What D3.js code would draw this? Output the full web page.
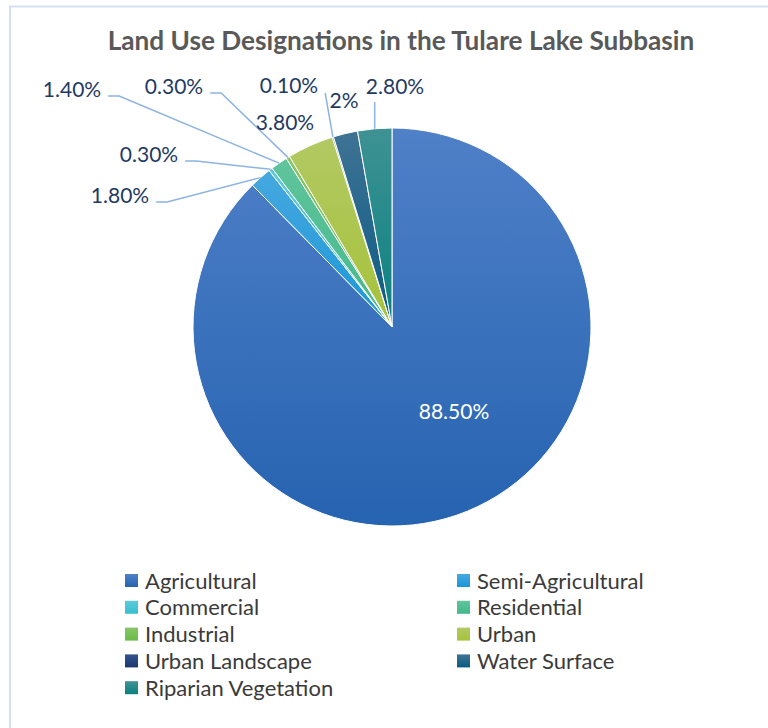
<!DOCTYPE html>
<html>
<head>
<meta charset="utf-8">
<script src="https://cdn.jsdelivr.net/npm/d3@7/dist/d3.min.js"></script>
<style>
  html, body { margin: 0; padding: 0; background: #ffffff; }
  svg { display: block; }
</style>
</head>
<body>
<svg id="chart" width="768" height="728"></svg>
<script>
// ---------- data ----------
const categories = ["Agricultural", "Semi-Agricultural", "Commercial", "Residential", "Industrial",
                    "Urban", "Urban Landscape", "Water Surface", "Riparian Vegetation"];
const values = [88.5, 1.8, 0.3, 1.4, 0.3, 3.8, 0.1, 2, 2.8];
const valueLabels = ["88.50%", "1.80%", "0.30%", "1.40%", "0.30%", "3.80%", "0.10%", "2%", "2.80%"];
const title = "Land Use Designations in the Tulare Lake Subbasin";

// ---------- styles ----------
const gradTop = ["#4f80c8", "#47a8e0", "#5ccad9", "#60c49c", "#86c665", "#b2c963", "#34548c", "#3f7394", "#3f9293"];
const gradBot = ["#2663b0", "#1997d6", "#36bfd0", "#44b88a", "#6abb48", "#a6c23a", "#1b3670", "#0a5a84", "#0a8181"];

// label layout: text center x, baseline y (relative to pie centre), leader type
const labelLayout = [
  { dx: 62, dy: 92, leader: "none", fill: "#ffffff" },
  { dx: -272, dy: -124, leader: "elbow" },
  { dx: -243, dy: -165, leader: "elbow" },
  { dx: -320, dy: -230, leader: "elbow" },
  { dx: -218, dy: -233, leader: "elbow" },
  { dx: -107, dy: -197, leader: "none" },
  { dx: -103, dy: -234, leader: "direct" },
  { dx: -48, dy: -219, leader: "none" },
  { dx: 3, dy: -233, leader: "vertical" }
];

const W = 768, H = 728;
const cx = 392, cy = 327, R = 199;
const svg = d3.select("#chart");

// border
svg.append("path")
  .attr("d", `M10,${H} L10,6.5 L${W},6.5`)
  .attr("fill", "none").attr("stroke", "#d3e2f3").attr("stroke-width", 2);

// gradients
const defs = svg.append("defs");
categories.forEach((c, i) => {
  const g = defs.append("linearGradient").attr("id", "g" + i)
    .attr("x1", 0).attr("y1", 0).attr("x2", 0).attr("y2", 1);
  g.append("stop").attr("offset", "0%").attr("stop-color", gradTop[i]);
  g.append("stop").attr("offset", "100%").attr("stop-color", gradBot[i]);
});

// title
svg.append("text")
  .attr("x", 401).attr("y", 50)
  .attr("text-anchor", "middle")
  .attr("font-family", "Lato, 'Open Sans', sans-serif")
  .attr("font-weight", "bold")
  .attr("font-size", 26.2)
  .attr("fill", "#595959")
  .text(title);

// pie
const pie = d3.pie().sort(null).value(d => d);
const arcs = pie(values);
const arc = d3.arc().innerRadius(0).outerRadius(R);

const g = svg.append("g").attr("transform", `translate(${cx},${cy})`);
g.selectAll("path.slice").data(arcs).enter().append("path")
  .attr("class", "slice")
  .attr("d", arc)
  .attr("fill", (d, i) => `url(#g${i})`)
  .attr("stroke", "#ffffff")
  .attr("stroke-width", 1);

// labels
const fontLbl = "Lato, 'Open Sans', sans-serif";
const lblG = g.append("g");
arcs.forEach((d, i) => {
  const L = labelLayout[i];
  const t = lblG.append("text")
    .attr("x", L.dx).attr("y", L.dy)
    .attr("text-anchor", "middle")
    .attr("font-family", fontLbl)
    .attr("font-size", 21)
    .attr("fill", L.fill || "#1f3a63")
    .text(valueLabels[i]);
  const mid = (d.startAngle + d.endAngle) / 2;
  const px = R * Math.sin(mid), py = -R * Math.cos(mid);
  const tw = t.node().getComputedTextLength();
  let pts = null;
  if (L.leader === "elbow") {
    const sx = L.dx + tw / 2 + 7, sy = L.dy - 1;
    pts = [[sx, sy], [sx + 11, sy], [px, py]];
  } else if (L.leader === "direct") {
    pts = [[L.dx + tw / 2 + 7, L.dy], [px, py]];
  } else if (L.leader === "vertical") {
    pts = [[px, L.dy + 8], [px, py]];
  }
  if (pts) {
    lblG.append("path")
      .attr("d", d3.line()(pts))
      .attr("fill", "none")
      .attr("stroke", "#8db3e2")
      .attr("stroke-width", 1.5);
  }
});

// legend
const legend = svg.append("g");
const colX = [125, 457], rowY0 = 581, rowStep = 26.8;
categories.forEach((c, i) => {
  const col = i % 2, row = Math.floor(i / 2);
  const x = colX[col], y = rowY0 + row * rowStep;
  legend.append("rect")
    .attr("x", x).attr("y", y - 7).attr("width", 13).attr("height", 13)
    .attr("fill", `url(#g${i})`);
  legend.append("text")
    .attr("x", x + 20).attr("y", y + 7.5)
    .attr("font-family", fontLbl)
    .attr("font-size", 22)
    .attr("fill", "#3a3a3a")
    .text(c);
});
</script>
</body>
</html>
